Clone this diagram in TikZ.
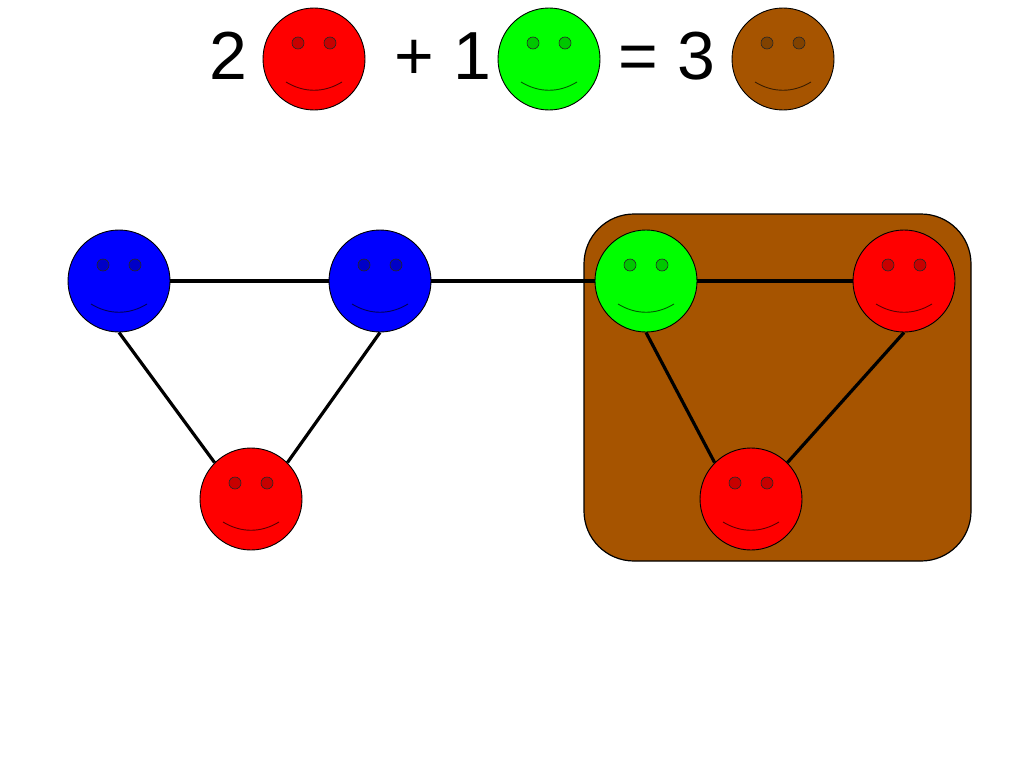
\documentclass[tikz,border=0pt]{standalone}
\usepackage{fontspec}
\setmainfont{Liberation Sans}
\usetikzlibrary{backgrounds}
\definecolor{fred}{RGB}{255,0,0}
\definecolor{fgreen}{RGB}{0,255,0}
\definecolor{fblue}{RGB}{0,0,255}
\definecolor{fbrown}{RGB}{166,84,0}
\tikzset{
  face/.style={circle,draw=black,line width=0.9pt,minimum size=102pt,inner sep=0pt,fill=#1,
    path picture={
      \filldraw[fill=#1!78!black,draw=black!85,line width=0.6pt]
        ([shift={(-16,-16)}]path picture bounding box.center) circle (6)
        ([shift={(16,-16)}]path picture bounding box.center) circle (6);
      \draw[#1!35!black,line width=0.9pt]
        ([shift={(-28,23)}]path picture bounding box.center)
        .. controls ([shift={(-10,34)}]path picture bounding box.center)
        and ([shift={(10,34)}]path picture bounding box.center)
        .. ([shift={(28,23)}]path picture bounding box.center);
    }},
  edge line/.style={line width=3.2pt,draw=black},
  bigtext/.style={anchor=base,inner sep=0pt,font=\fontsize{68}{80}\selectfont},
  groupbox/.style={rectangle,rounded corners=50pt,fill=fbrown,draw=black,line width=1.2pt,
    minimum width=387pt,minimum height=347pt}
}
\begin{document}
\begin{tikzpicture}[x=1pt,y=-1pt]
\useasboundingbox (0,0) rectangle (1024,768);
% equation
\node[bigtext] (t2) at (228,79) {2};
\node[face=fred] (e1) at (314,59) {};
\node[bigtext] (t1) at (443,79) {+ 1};
\node[face=fgreen] (e2) at (549,59) {};
\node[bigtext] (t3) at (667,79) {= 3};
\node[face=fbrown] (e3) at (783,59) {};
% graph
\node[face=fblue] (b1) at (119,281) {};
\node[face=fblue] (b2) at (380,281) {};
\node[face=fred] (r1) at (251,499) {};
\node[face=fgreen] (g1) at (646,281) {};
\node[face=fred] (r2) at (904,281) {};
\node[face=fred] (r3) at (751,499) {};
\begin{scope}[on background layer]
  \node[groupbox] (grp) at (777.5,387.5) {};
  \draw[edge line] (b1.east) -- (b2.west);
  \draw[edge line] (b1.south) -- (r1.north west);
  \draw[edge line] (b2.south) -- (r1.north east);
  \draw[edge line] (b2.east) -- (g1.west);
  \draw[edge line] (g1.east) -- (r2.west);
  \draw[edge line] (g1.south) -- (r3.north west);
  \draw[edge line] (r2.south) -- (r3.north east);
\end{scope}
\end{tikzpicture}
\end{document}
